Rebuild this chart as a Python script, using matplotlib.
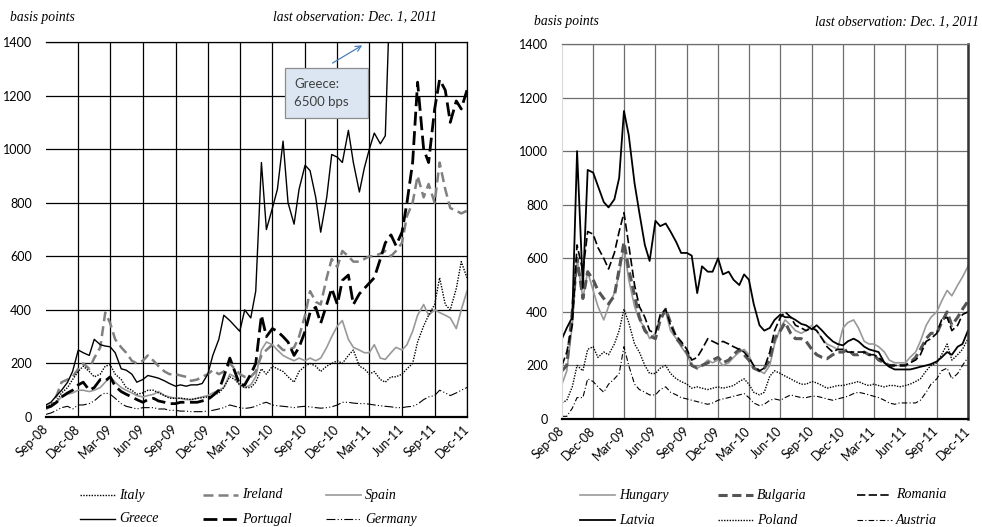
import numpy as np
import pandas as pd
import matplotlib
matplotlib.use("Agg")
import matplotlib.pyplot as plt
import matplotlib.dates as mdates
from matplotlib.patches import Rectangle
from matplotlib.lines import Line2D

# semi-monthly observations, Sep 1 2008 .. Dec 1 2011
dates = pd.date_range("2008-09-01", "2011-12-01", freq="SMS")
tick_dates = pd.date_range("2008-09-01", "2011-12-01", freq="3MS")

# ---- left panel (euro area periphery) ----
italy = [40, 45, 60, 90, 110, 140, 170, 190,
         170, 150, 160, 190, 195, 160, 140, 110,
         100, 85, 90, 100, 100, 90, 80, 70,
         70, 70, 68, 65, 70, 72, 75, 80,
         90, 110, 150, 140, 120, 110, 110, 130,
         180, 160, 190, 180, 170, 150, 130, 170,
         190, 200, 190, 170, 190, 200, 210, 200,
         230, 250, 190, 180, 160, 170, 140, 130,
         150, 150, 160, 180, 200, 280, 340, 380,
         420, 520, 420, 400, 480, 580, 520]
ireland = [30, 40, 80, 130, 140, 150, 180, 200,
           180, 220, 260, 390, 350, 290, 260, 240,
           210, 200, 210, 230, 210, 190, 170, 160,
           160, 155, 150, 135, 140, 150, 160, 175,
           160, 170, 200, 180, 160, 150, 150, 170,
           230, 250, 270, 270, 250, 250, 260, 300,
           380, 470, 430, 420, 520, 590, 560, 620,
           600, 580, 580, 590, 600, 600, 610, 620,
           600, 620, 650, 750, 800, 900, 820, 870,
           800, 950, 850, 780, 770, 760, 770]
spain = [35, 40, 55, 75, 85, 90, 100, 100,
         95, 100, 110, 130, 150, 130, 110, 100,
         90, 80, 75, 80, 85, 95, 80, 75,
         70, 70, 65, 65, 70, 75, 80, 90,
         100, 110, 160, 150, 120, 110, 120, 150,
         250, 280, 270, 250, 230, 220, 210, 220,
         210, 220, 210, 220, 260, 300, 340, 360,
         290, 260, 250, 240, 240, 270, 220, 215,
         240, 260, 250, 270, 320, 380, 420, 380,
         400, 390, 380, 370, 330, 400, 470]
greece = [45, 55, 80, 100, 130, 170, 250, 240,
          230, 290, 270, 265, 262, 240, 180, 175,
          160, 130, 140, 155, 150, 145, 135, 125,
          115, 120, 115, 120, 120, 125, 160, 230,
          290, 380, 360, 340, 320, 400, 370, 470,
          950, 700, 780, 850, 1030, 800, 720, 850,
          940, 920, 820, 690, 820, 980, 970, 950,
          1070, 950, 840, 930, 1000, 1060, 1020, 1050,
          1700, 1900, 2000, 2100, 2300, 2200, 2100, 2300,
          3000, 4500, 5000, 4800, 5500, 6000, 6500]
portugal = [35, 40, 55, 75, 90, 100, 120, 130,
            100, 110, 140, 135, 150, 115, 95, 85,
            75, 65, 55, 65, 70, 60, 55, 50,
            50, 55, 55, 55, 55, 60, 65, 80,
            100, 150, 220, 170, 120, 120, 160, 200,
            380, 300, 330, 320, 300, 280, 230, 260,
            320, 390, 410, 350, 420, 480, 420, 510,
            530, 420, 460, 480, 500, 520, 590, 650,
            680, 640, 690, 800, 950, 1250, 1000, 950,
            1150, 1260, 1220, 1100, 1180, 1150, 1220]
germany = [10, 15, 25, 35, 40, 30, 45, 45,
           50, 60, 80, 90, 85, 70, 50, 40,
           35, 30, 35, 35, 35, 30, 30, 25,
           25, 22, 22, 20, 20, 20, 22, 25,
           30, 35, 45, 40, 35, 32, 35, 40,
           50, 55, 45, 42, 40, 38, 35, 38,
           40, 38, 35, 33, 35, 38, 45, 55,
           55, 52, 50, 50, 48, 45, 42, 40,
           38, 35, 35, 38, 40, 48, 65, 75,
           80, 100, 90, 80, 90, 100, 110]

# ---- right panel (central & eastern Europe) ----
hungary = [130, 180, 350, 600, 450, 550, 480, 420,
           370, 420, 470, 540, 640, 520, 420, 370,
           340, 300, 320, 380, 400, 330, 300, 270,
           240, 200, 190, 200, 220, 210, 220, 200,
           210, 230, 250, 260, 240, 190, 180, 170,
           200, 280, 340, 370, 350, 330, 320, 330,
           350, 330, 300, 280, 270, 260, 340, 360,
           370, 340, 290, 280, 280, 270, 250, 220,
           210, 210, 210, 230, 250, 290, 350, 380,
           400, 440, 480, 460, 500, 530, 570]
bulgaria = [180, 200, 400, 600, 450, 550, 520, 480,
            450, 430, 460, 560, 660, 560, 460, 380,
            330, 310, 300, 370, 410, 360, 300, 280,
            250, 200, 190, 200, 210, 220, 230, 210,
            220, 240, 260, 240, 220, 190, 180, 190,
            220, 300, 330, 360, 320, 300, 300, 290,
            260, 240, 230, 225, 240, 250, 250, 260,
            240, 240, 250, 240, 240, 220, 210, 200,
            200, 200, 200, 210, 230, 260, 300, 320,
            320, 360, 400, 350, 380, 410, 440]
romania = [200, 250, 350, 650, 550, 700, 690, 640,
           600, 560, 620, 700, 770, 650, 500, 420,
           380, 330, 320, 390, 410, 350, 310, 290,
           260, 220, 230, 260, 300, 290, 280, 290,
           280, 270, 260, 250, 230, 200, 180, 190,
           250, 330, 380, 400, 380, 350, 340, 330,
           340, 330, 300, 270, 250, 260, 260, 250,
           250, 250, 250, 240, 240, 230, 210, 200,
           200, 200, 200, 210, 220, 240, 290, 300,
           320, 370, 380, 330, 350, 390, 400]
latvia = [300, 340, 380, 1000, 490, 930, 920, 870,
          810, 790, 820, 900, 1150, 1060, 880, 770,
          650, 590, 740, 720, 730, 700, 660, 620,
          620, 610, 470, 570, 550, 550, 600, 540,
          550, 520, 500, 540, 520, 430, 350, 330,
          340, 370, 390, 380, 380, 370, 355, 350,
          335, 350, 330, 310, 290, 280, 275, 290,
          300, 290, 270, 260, 255, 250, 210, 195,
          185, 185, 185, 185, 190, 195, 200, 205,
          215, 230, 250, 240, 270, 280, 330]
poland = [60, 70, 120, 200, 180, 260, 270, 230,
          250, 240, 280, 330, 410, 360, 280, 250,
          200, 170, 170, 190, 200, 170, 150, 140,
          130, 115, 120, 115, 110, 115, 120, 115,
          120, 125, 140, 150, 130, 100, 90, 100,
          160, 180, 170, 160, 150, 140, 130, 130,
          140, 135, 125, 115, 120, 125, 125, 130,
          135, 140, 130, 125, 130, 125, 120, 125,
          125, 120, 125, 130, 140, 150, 180, 200,
          210, 240, 280, 220, 240, 260, 300]
austria = [10, 10, 40, 80, 80, 150, 140, 120,
           100, 130, 150, 170, 270, 200, 130, 110,
           100, 90, 90, 110, 120, 100, 90, 80,
           75, 70, 65, 60, 55, 60, 70, 75,
           80, 85, 90, 95, 80, 60, 50, 55,
           70, 75, 70, 80, 90, 85, 80, 80,
           85, 85, 80, 75, 70, 75, 80, 85,
           95, 100, 95, 90, 85, 80, 70, 60,
           55, 60, 60, 60, 60, 70, 100, 130,
           150, 180, 190, 150, 170, 200, 230]

sans = "Lato"
serif = "Liberation Serif"
W, H = 982, 527

fig = plt.figure(figsize=(9.82, 5.27), dpi=100)
ax1 = fig.add_axes([0.0468, 0.2087, 0.4287, 0.7116])
ax2 = fig.add_axes([0.5723, 0.2049, 0.4134, 0.7116])


def style_axis(ax, gridcolor, leftcolor):
    ax.set_xlim(dates[0], dates[-1])
    ax.set_ylim(0, 1400)
    ax.set_yticks(range(0, 1401, 200))
    ax.set_xticks(tick_dates)
    ax.xaxis.set_major_formatter(mdates.DateFormatter("%b-%y"))
    ax.tick_params(length=0)
    ax.tick_params(axis="y", pad=10, labelsize=9)
    ax.tick_params(axis="x", pad=7, labelsize=9)
    for lab in ax.get_yticklabels():
        lab.set_fontfamily(sans)
    for lab in ax.get_xticklabels():
        lab.set_fontfamily(sans)
        lab.set_rotation(45)
        lab.set_ha("right")
        lab.set_va("center")
        lab.set_rotation_mode("anchor")
    ax.grid(True, color=gridcolor, linewidth=0.9)
    ax.set_axisbelow(True)
    ax.get_xgridlines()[0].set_visible(False)
    ax.get_ygridlines()[0].set_visible(False)
    ax.spines["left"].set_color(leftcolor)
    ax.spines["left"].set_linewidth(0.8)
    ax.spines["top"].set_color(gridcolor)
    ax.spines["top"].set_linewidth(0.9)
    ax.spines["right"].set_color(gridcolor)
    ax.spines["bottom"].set_color("black")
    ax.spines["bottom"].set_linewidth(1.6)


style_axis(ax1, "black", "none")
ax1.spines["right"].set_linewidth(0.9)
style_axis(ax2, "#6e6e6e", "#d9d9d9")
ax2.spines["right"].set_color("#333333")
ax2.spines["right"].set_linewidth(1.8)

# left series
l_spain, = ax1.plot(dates, spain, color="#999999", lw=1.2, label="Spain")
l_ireland, = ax1.plot(dates, ireland, color="#808080", lw=1.8, ls=(0, (4, 2)), label="Ireland")
l_italy, = ax1.plot(dates, italy, color="black", lw=1.0, ls=(0, (1, 1)), label="Italy")
l_germany, = ax1.plot(dates, germany, color="black", lw=0.8, ls=(0, (8, 2, 1, 2, 1, 2)), label="Germany")
l_greece, = ax1.plot(dates, greece, color="black", lw=1.0, label="Greece")
l_portugal, = ax1.plot(dates, portugal, color="black", lw=2.0, ls=(0, (5, 2)), label="Portugal")

# right series
r_hungary, = ax2.plot(dates, hungary, color="#999999", lw=1.2, label="Hungary")
r_bulgaria, = ax2.plot(dates, bulgaria, color="#555555", lw=2.2, ls=(0, (3, 1.5)), label="Bulgaria")
r_romania, = ax2.plot(dates, romania, color="black", lw=1.2, ls=(0, (5, 2)), label="Romania")
r_latvia, = ax2.plot(dates, latvia, color="black", lw=1.3, label="Latvia")
r_poland, = ax2.plot(dates, poland, color="black", lw=1.0, ls=(0, (1, 1)), label="Poland")
r_austria, = ax2.plot(dates, austria, color="black", lw=0.8, ls=(0, (5, 2, 1, 2)), label="Austria")


# legends laid out by hand, Excel style: fixed columns under each panel
def legend_entry(line, x0, x1, y):
    yy = 1 - y / H
    seg = Line2D([x0 / W, x1 / W], [yy, yy], transform=fig.transFigure,
                 color=line.get_color(), lw=line.get_linewidth(),
                 ls=line.get_linestyle())
    seg.set_dashes(line._unscaled_dash_pattern[1]) if line._unscaled_dash_pattern[1] else None
    fig.add_artist(seg)
    fig.text((x1 + 4) / W, yy, line.get_label(), family=serif, style="italic",
             size=10, va="center", ha="left")


for line, x0, y in [(l_italy, 80, 495), (l_ireland, 203, 495), (l_spain, 326, 495),
                    (l_greece, 80, 519), (l_portugal, 203, 519), (l_germany, 326, 519),
                    (r_hungary, 580, 495), (r_bulgaria, 718, 495), (r_romania, 857, 495),
                    (r_latvia, 580, 520), (r_poland, 718, 520), (r_austria, 857, 520)]:
    legend_entry(line, x0, x0 + 35, y)

# header texts
hdr = {"family": serif, "style": "italic", "size": 9.8}
fig.text(10 / W, 1 - 17 / H, "basis points", va="center", ha="left", **hdr)
fig.text(437 / W, 1 - 17 / H, "last observation: Dec. 1, 2011", va="center", ha="right", **hdr)
fig.text(534 / W, 1 - 22 / H, "basis points", va="center", ha="left", **hdr)
fig.text(979 / W, 1 - 22 / H, "last observation: Dec. 1, 2011", va="center", ha="right", **hdr)

# Greece call-out
ax1.add_patch(Rectangle((0.568, 0.797), 0.197, 0.134, transform=ax1.transAxes,
                        facecolor="#dce6f2", edgecolor="#8c8c8c", lw=0.9, zorder=5))
ax1.text(0.59, 0.888, "Greece:", transform=ax1.transAxes, family=sans, size=9.5,
         color="#404040", va="center", ha="left", zorder=6)
ax1.text(0.59, 0.84, "6500 bps", transform=ax1.transAxes, family=sans, size=9.5,
         color="#404040", va="center", ha="left", zorder=6)
ax1.annotate("", xy=(0.757, 0.995), xytext=(0.675, 0.94),
             xycoords="axes fraction", textcoords="axes fraction",
             arrowprops=dict(arrowstyle="->", color="#4a7ebb", lw=0.9), zorder=6)

fig.savefig("out.png", dpi=100)
